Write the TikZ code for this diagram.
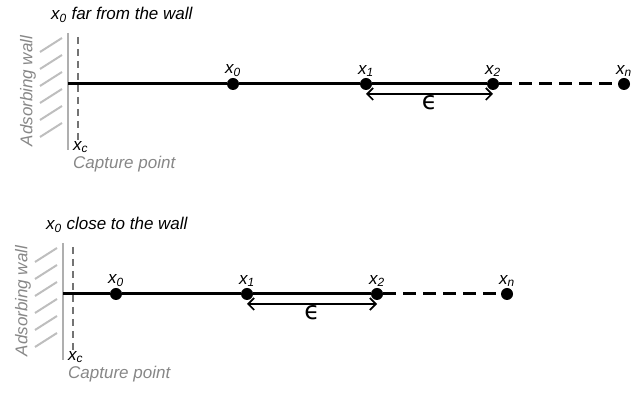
\documentclass[tikz,border=0pt]{standalone}
\usepackage{fontspec}
\setmainfont{Liberation Sans}
\newfontfamily\symfont{DejaVu Sans}
\usepackage{tikz}
\usetikzlibrary{arrows.meta,positioning}

\definecolor{wallgray}{RGB}{175,175,175}
\definecolor{hatchgray}{RGB}{190,190,190}
\definecolor{textgray}{RGB}{135,135,135}
\definecolor{capgray}{RGB}{115,115,115}

\begin{document}
\begin{tikzpicture}[
    x=1pt, y=1pt,
    lbl/.style={font=\fontsize{17}{20}\selectfont\itshape, inner sep=1pt},
    dot/.style={circle, fill=black, inner sep=0pt, minimum size=12pt},
    axis/.style={line width=3pt},
    tail/.style={line width=3pt, dash pattern=on 13pt off 7pt},
    gap/.style={{Straight Barb[length=6pt,width=12pt]}-{Straight Barb[length=6pt,width=12pt]}, line width=1.7pt},
    wall/.style={wallgray, line width=2pt},
    hatch/.style={hatchgray, line width=2pt},
    capture/.style={capgray, line width=1.8pt, dash pattern=on 7pt off 5pt}
]
    \useasboundingbox (0,0) rectangle (637,398);

    % x0 far from the wall
    \begin{scope}[shift={(68,314)}]
        \coordinate (ftop) at (0,51);
        \coordinate (fbot) at (0,-66);
        \coordinate (fwall) at (0,0);
        \coordinate (fctop) at (10,47);
        \coordinate (fcbot) at (10,-59);
        \draw[wall] (ftop) -- (fbot);
        \foreach \k in {0,...,5}
            \draw[hatch] (-6,46-17*\k) -- (-28,32-17*\k);
        \draw[capture] (fctop) -- (fcbot);
        \node[lbl, anchor=west] (ftitle) at (-18,69) {x\textsubscript{0} far from the wall};
        \node[lbl, textgray, rotate=90] (fabs) at (-40,-7) {Adsorbing wall};
        \node[lbl, anchor=west] (fxc) at (4,-63) {x\textsubscript{c}};
        \node[lbl, textgray, anchor=west] (fcap) at (4,-80) {Capture point};

        \node[dot, label={[lbl]above:x\textsubscript{0}}] (far0) at (165,0) {};
        \node[dot, label={[lbl]above:x\textsubscript{1}}] (far1) at (298,0) {};
        \node[dot, label={[lbl]above:x\textsubscript{2}}] (far2) at (425,0) {};
        \node[dot, label={[lbl]above:x\textsubscript{n}}] (farn) at (556,0) {};

        \draw[axis] (fwall) -- (far0) -- (far1) -- (far2);
        \draw[tail] (far2) -- (farn);
        \draw[gap] ([yshift=-10pt]far1.center) -- node[lbl, below=0pt, font=\fontsize{25}{27}\symfont] (feps) {ϵ} ([yshift=-10pt]far2.center);
    \end{scope}

    % x0 close to the wall
    \begin{scope}[shift={(63,104)}]
        \coordinate (ntop) at (0,51);
        \coordinate (nbot) at (0,-66);
        \coordinate (nwall) at (0,0);
        \coordinate (nctop) at (10,47);
        \coordinate (ncbot) at (10,-59);
        \draw[wall] (ntop) -- (nbot);
        \foreach \k in {0,...,5}
            \draw[hatch] (-6,46-17*\k) -- (-28,32-17*\k);
        \draw[capture] (nctop) -- (ncbot);
        \node[lbl, anchor=west] (ntitle) at (-18,69) {x\textsubscript{0} close to the wall};
        \node[lbl, textgray, rotate=90] (nabs) at (-40,-7) {Adsorbing wall};
        \node[lbl, anchor=west] (nxc) at (4,-63) {x\textsubscript{c}};
        \node[lbl, textgray, anchor=west] (ncap) at (4,-80) {Capture point};

        \node[dot, label={[lbl]above:x\textsubscript{0}}] (near0) at (53,0) {};
        \node[dot, label={[lbl]above:x\textsubscript{1}}] (near1) at (184,0) {};
        \node[dot, label={[lbl]above:x\textsubscript{2}}] (near2) at (314,0) {};
        \node[dot, label={[lbl]above:x\textsubscript{n}}] (nearn) at (444,0) {};

        \draw[axis] (nwall) -- (near0) -- (near1) -- (near2);
        \draw[tail] (near2) -- (nearn);
        \draw[gap] ([yshift=-10pt]near1.center) -- node[lbl, below=0pt, font=\fontsize{25}{27}\symfont] (neps) {ϵ} ([yshift=-10pt]near2.center);
    \end{scope}
\end{tikzpicture}
\end{document}
